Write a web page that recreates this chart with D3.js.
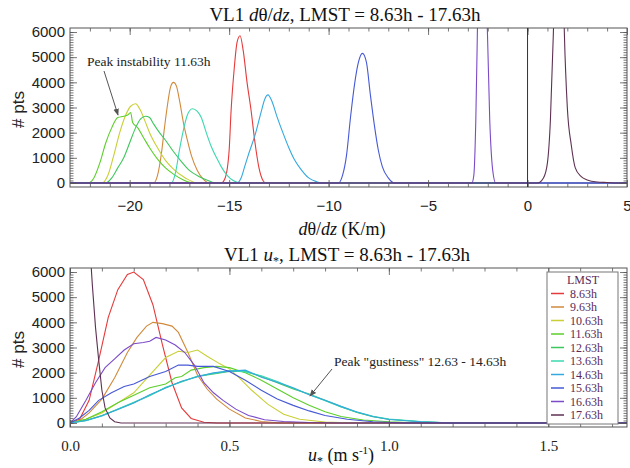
<!DOCTYPE html>
<html>
<head>
<meta charset="utf-8">
<script src="https://cdn.jsdelivr.net/npm/d3@7"></script>
<style>
  body { margin: 0; background: #fff; }
  svg { display: block; }
</style>
</head>
<body>
<svg class="chart" width="630" height="468"></svg>
<script>
// LMST hours and colours (one per curve)
const hours = ['8.63h', '9.63h', '10.63h', '11.63h', '12.63h', '13.63h', '14.63h', '15.63h', '16.63h', '17.63h']
const colors = ['#e63a3a', '#d18a3c', '#c9cf34', '#5ccf2a', '#3ec75c', '#3bd8b0', '#34a9df', '#4659d6', '#7b4bc8', '#5e3152']

// top panel: d theta / dz histograms, [value K/m, # pts]
const dth863 = [[-23, 0], [-15.4, 0], [-15.2, 200], [-15.0, 1300], [-14.9, 2900], [-14.75, 4500], [-14.6, 5600], [-14.45, 5850], [-14.3, 5300], [-14.1, 4000], [-13.9, 2900], [-13.7, 1600], [-13.5, 600], [-13.3, 100], [-13.15, 0], [5, 0]]
const dth963 = [[-23, 0], [-18.8, 0], [-18.6, 300], [-18.4, 1200], [-18.25, 2200], [-18.1, 3100], [-17.95, 3800], [-17.8, 4000], [-17.65, 3850], [-17.5, 3300], [-17.3, 2400], [-17.1, 1700], [-16.9, 1100], [-16.6, 500], [-16.3, 150], [-16.0, 0], [5, 0]]
const dth1063 = [[-23, 0], [-21.4, 0], [-21.1, 300], [-20.8, 1100], [-20.5, 2000], [-20.2, 2700], [-19.95, 3050], [-19.7, 3150], [-19.5, 2950], [-19.2, 2400], [-19.0, 2000], [-18.6, 1400], [-18.2, 900], [-17.8, 550], [-17.2, 200], [-16.6, 0], [5, 0]]
const dth1163 = [[-23, 0], [-22.1, 0], [-21.8, 200], [-21.5, 800], [-21.2, 1600], [-20.9, 2200], [-20.6, 2600], [-20.3, 2650], [-20.1, 2700], [-19.95, 2800], [-19.85, 2400], [-19.6, 2200], [-19.3, 1800], [-19.0, 1400], [-18.6, 950], [-18.2, 600], [-17.8, 350], [-17.3, 120], [-16.8, 0], [5, 0]]
const dth1263 = [[-23, 0], [-21.2, 0], [-20.9, 200], [-20.6, 600], [-20.3, 1000], [-20.0, 1600], [-19.7, 2200], [-19.45, 2550], [-19.2, 2650], [-19.0, 2600], [-18.8, 2350], [-18.5, 2000], [-18.2, 1700], [-17.8, 1250], [-17.4, 850], [-17.0, 500], [-16.5, 250], [-16.0, 80], [-15.7, 0], [5, 0]]
const dth1363 = [[-23, 0], [-17.9, 0], [-17.7, 400], [-17.5, 1300], [-17.3, 2100], [-17.1, 2700], [-16.85, 2950], [-16.6, 2850], [-16.4, 2600], [-16.15, 2000], [-15.9, 1450], [-15.6, 950], [-15.4, 650], [-15.1, 300], [-14.8, 100], [-14.4, 0], [5, 0]]
const dth1463 = [[-23, 0], [-14.6, 0], [-14.4, 200], [-14.2, 700], [-14.0, 1200], [-13.7, 1900], [-13.4, 2800], [-13.2, 3350], [-13.05, 3500], [-12.85, 3250], [-12.6, 2650], [-12.3, 2000], [-12.0, 1400], [-11.7, 900], [-11.4, 550], [-11.0, 200], [-10.6, 50], [-10.3, 0], [5, 0]]
const dth1563 = [[-23, 0], [-9.5, 0], [-9.3, 300], [-9.1, 1100], [-8.9, 2600], [-8.7, 3900], [-8.5, 4800], [-8.3, 5150], [-8.1, 4800], [-7.9, 3500], [-7.7, 2300], [-7.5, 1300], [-7.3, 650], [-7.0, 200], [-6.7, 0], [5, 0]]
const dth1663 = [[-23, 0], [-2.8, 0], [-2.7, 300], [-2.6, 2500], [-2.5, 7000], [-2.35, 13000], [-2.2, 13000], [-2.05, 7000], [-1.9, 2500], [-1.75, 500], [-1.6, 0], [5, 0]]
const dth1763 = [[-23, 0], [0.5, 0], [0.8, 200], [1.0, 800], [1.15, 2500], [1.3, 6000], [1.5, 12000], [1.7, 12000], [1.85, 6000], [2.0, 3000], [2.2, 1500], [2.4, 600], [2.7, 250], [3.0, 120], [3.5, 40], [4.0, 20], [4.5, 0], [5, 0]]

// bottom panel: friction velocity histograms, [u* m/s, # pts]
const us863 = [[0, 0], [0.03, 150], [0.06, 900], [0.09, 2500], [0.12, 4200], [0.15, 5300], [0.18, 5900], [0.2, 6000], [0.23, 5700], [0.26, 4700], [0.29, 3100], [0.32, 1600], [0.35, 600], [0.38, 180], [0.42, 30], [0.46, 0], [1.75, 0]]
const us963 = [[0, 0], [0.03, 100], [0.06, 400], [0.1, 950], [0.14, 1800], [0.18, 2800], [0.21, 3400], [0.24, 3850], [0.26, 4000], [0.29, 3950], [0.32, 3850], [0.34, 3600], [0.37, 2800], [0.4, 1900], [0.43, 1350], [0.46, 950], [0.5, 550], [0.55, 200], [0.6, 60], [0.66, 0], [1.75, 0]]
const us1063 = [[0, 0], [0.05, 150], [0.1, 400], [0.15, 800], [0.2, 1200], [0.25, 1900], [0.3, 2600], [0.34, 2850], [0.37, 2800], [0.4, 2900], [0.43, 2650], [0.47, 2350], [0.5, 2150], [0.53, 1800], [0.57, 1300], [0.62, 750], [0.67, 350], [0.72, 150], [0.8, 40], [0.9, 0], [1.75, 0]]
const us1163 = [[0, 0], [0.05, 150], [0.1, 450], [0.15, 800], [0.2, 1100], [0.25, 1400], [0.3, 1550], [0.33, 1800], [0.35, 1850], [0.38, 2100], [0.42, 2200], [0.46, 2250], [0.5, 2200], [0.55, 2000], [0.6, 1700], [0.65, 1350], [0.7, 1000], [0.75, 700], [0.8, 450], [0.85, 260], [0.92, 120], [1.0, 50], [1.1, 0], [1.75, 0]]
const us1263 = [[0, 0], [0.05, 100], [0.1, 300], [0.15, 550], [0.2, 800], [0.25, 1100], [0.3, 1400], [0.35, 1650], [0.4, 1850], [0.45, 1950], [0.5, 2050], [0.55, 2050], [0.6, 1850], [0.65, 1600], [0.7, 1350], [0.75, 1150], [0.8, 900], [0.85, 650], [0.9, 420], [0.95, 250], [1.0, 150], [1.1, 50], [1.2, 0], [1.75, 0]]
const us1363 = [[0, 0], [0.05, 90], [0.1, 280], [0.15, 560], [0.2, 820], [0.25, 1080], [0.3, 1420], [0.35, 1630], [0.4, 1870], [0.45, 1970], [0.5, 2080], [0.55, 2030], [0.6, 1880], [0.65, 1650], [0.7, 1380], [0.75, 1130], [0.8, 880], [0.85, 640], [0.9, 430], [0.95, 270], [1.0, 160], [1.1, 60], [1.2, 0], [1.75, 0]]
const us1463 = [[0, 0], [0.05, 100], [0.1, 290], [0.15, 540], [0.2, 790], [0.25, 1120], [0.3, 1390], [0.35, 1660], [0.4, 1840], [0.45, 1990], [0.5, 2060], [0.55, 2100], [0.6, 1820], [0.65, 1620], [0.7, 1400], [0.75, 1120], [0.8, 900], [0.85, 660], [0.9, 440], [0.95, 260], [1.0, 140], [1.1, 50], [1.2, 0], [1.75, 0]]
const us1563 = [[0, 0], [0.03, 200], [0.06, 500], [0.09, 900], [0.13, 1200], [0.17, 1450], [0.2, 1550], [0.25, 1850], [0.3, 2050], [0.34, 2300], [0.37, 2300], [0.4, 2250], [0.45, 2250], [0.5, 2050], [0.55, 1700], [0.6, 1300], [0.65, 950], [0.7, 700], [0.75, 480], [0.8, 300], [0.87, 150], [0.95, 50], [1.05, 0], [1.75, 0]]
const us1663 = [[0, 0], [0.02, 250], [0.05, 900], [0.08, 1600], [0.11, 2200], [0.14, 2550], [0.17, 2900], [0.2, 3150], [0.23, 3200], [0.25, 3250], [0.27, 3400], [0.3, 3300], [0.33, 3100], [0.36, 2800], [0.39, 2300], [0.42, 1600], [0.45, 1200], [0.48, 900], [0.52, 550], [0.56, 300], [0.61, 130], [0.67, 60], [0.75, 20], [0.85, 0], [1.75, 0]]
const us1763 = [[0, 20000], [0.04, 12000], [0.06, 7500], [0.07, 5500], [0.08, 3800], [0.09, 2500], [0.1, 1300], [0.11, 600], [0.125, 200], [0.14, 50], [0.16, 0], [1.75, 0]]

const dthCurves = [dth863, dth963, dth1063, dth1163, dth1263, dth1363, dth1463, dth1563, dth1663, dth1763]
const usCurves = [us863, us963, us1063, us1163, us1263, us1363, us1463, us1563, us1663, us1763]

const yMajor = [0, 1000, 2000, 3000, 4000, 5000, 6000]
const dthMajor = [-20, -15, -10, -5, 0, 5]
const usMajor = [0, 0.5, 1.0, 1.5]

const svg = d3.select('.chart')
const frame = '#555'
const plotL = 70, plotR = 627
const serif = '"Liberation Serif", "Times New Roman", serif'
const sans = '"Liberation Sans", Arial, sans-serif'

const drawPanel = (top, bottom, xscale, curves, majors, minors, fmt, labelFont, id, curve) => {
    const yscale = d3.scaleLinear().domain([-160, 6160]).range([bottom, top])
    const g = svg.append('g')

    g.append('clipPath').attr('id', id).append('rect')
        .attr('x', plotL).attr('y', top).attr('width', plotR - plotL).attr('height', bottom - top)

    const line = d3.line()
        .x(d => xscale(d[0]))
        .y(d => yscale(d[1]))
        .curve(curve)

    const lines = g.append('g').attr('clip-path', `url(#${id})`)
    curves.forEach((c, i) => {
        lines.append('path')
            .attr('d', line(c))
            .attr('fill', 'none')
            .attr('stroke', colors[i])
            .attr('stroke-width', 1.1)
    })

    // bottom axis with labels
    const xb = g.append('g').attr('transform', `translate(0,${bottom})`)
        .call(d3.axisBottom(xscale).tickValues(majors).tickSize(-7).tickPadding(13).tickFormat(fmt))
    xb.selectAll('text').style('font', labelFont).attr('fill', '#222')
    g.append('g').attr('transform', `translate(0,${bottom})`)
        .call(d3.axisBottom(xscale).tickValues(minors).tickSize(-3.5).tickFormat(''))
    g.append('g').attr('transform', `translate(0,${top})`)
        .call(d3.axisTop(xscale).tickValues(majors).tickSize(-7).tickFormat(''))
    g.append('g').attr('transform', `translate(0,${top})`)
        .call(d3.axisTop(xscale).tickValues(minors).tickSize(-3.5).tickFormat(''))

    const yMinor = d3.range(0, 6001, 100)
    const yl = g.append('g').attr('transform', `translate(${plotL},0)`)
        .call(d3.axisLeft(yscale).tickValues(yMajor).tickSize(-7).tickPadding(5).tickFormat(d3.format('d')))
    yl.selectAll('text').style('font', `15px ${sans}`).attr('fill', '#222')
    g.append('g').attr('transform', `translate(${plotL},0)`)
        .call(d3.axisLeft(yscale).tickValues(yMinor).tickSize(-3.5).tickFormat(''))
    g.append('g').attr('transform', `translate(${plotR},0)`)
        .call(d3.axisRight(yscale).tickValues(yMajor).tickSize(-7).tickFormat(''))
    g.append('g').attr('transform', `translate(${plotR},0)`)
        .call(d3.axisRight(yscale).tickValues(yMinor).tickSize(-3.5).tickFormat(''))

    g.selectAll('.domain').remove()
    g.selectAll('.tick line').attr('stroke', frame).attr('stroke-width', 0.8)

    g.append('rect')
        .attr('x', plotL).attr('y', top)
        .attr('width', plotR - plotL).attr('height', bottom - top)
        .attr('fill', 'none').attr('stroke', frame).attr('stroke-width', 1)

    g.append('text')
        .attr('transform', `translate(24,${(top + bottom) / 2 + 2}) rotate(-90)`)
        .attr('text-anchor', 'middle')
        .style('font', `17px ${sans}`)
        .attr('fill', '#222')
        .text('# pts')

    return { g, yscale, xb }
}

// ---- top panel
const xTop = d3.scaleLinear().domain([-23, 5]).range([plotL, plotR])
const p1 = drawPanel(28, 187, xTop, dthCurves, dthMajor, d3.range(-22, 5, 1), d3.format('d'),
    `15px ${sans}`, 'clipTop', d3.curveMonotoneX)
// keep the last label "5" inside the page
p1.xb.selectAll('text').filter(d => d === 5).attr('text-anchor', 'end').attr('dx', 4)

// zero line
p1.g.append('line')
    .attr('x1', xTop(0)).attr('x2', xTop(0))
    .attr('y1', 28).attr('y2', 187)
    .attr('stroke', '#333').attr('stroke-width', 1)

const t1 = svg.append('text').attr('x', 345).attr('y', 21).attr('text-anchor', 'middle')
    .style('font', `19px ${serif}`).attr('fill', '#111')
t1.append('tspan').text('VL1 ')
t1.append('tspan').style('font-style', 'italic').text('d')
t1.append('tspan').text('θ/')
t1.append('tspan').style('font-style', 'italic').text('dz')
t1.append('tspan').text(', LMST = 8.63h - 17.63h')

const a1 = svg.append('text').attr('x', 342).attr('y', 235).attr('text-anchor', 'middle')
    .style('font', `18px ${serif}`).attr('fill', '#111')
a1.append('tspan').style('font-style', 'italic').text('d')
a1.append('tspan').text('θ/')
a1.append('tspan').style('font-style', 'italic').text('dz')
a1.append('tspan').text(' (K/m)')

svg.append('text').attr('x', 87).attr('y', 66)
    .style('font', `13.5px ${serif}`).attr('fill', '#222')
    .text('Peak instability 11.63h')

svg.append('defs').append('marker')
    .attr('id', 'arr').attr('viewBox', '0 0 10 10').attr('refX', 9).attr('refY', 5)
    .attr('markerWidth', 7).attr('markerHeight', 7).attr('orient', 'auto')
    .append('path').attr('d', 'M0,1 L10,5 L0,9 z').attr('fill', '#555')

svg.append('line').attr('x1', 104).attr('y1', 71).attr('x2', 118).attr('y2', 115)
    .attr('stroke', '#555').attr('stroke-width', 1).attr('marker-end', 'url(#arr)')

// ---- bottom panel
const xBot = d3.scaleLinear().domain([0, 1.75]).range([plotL, plotR + 1])
const p2 = drawPanel(268, 427, xBot, usCurves, usMajor, d3.range(0, 1.75, 0.1), d3.format('.1f'),
    `15px ${serif}`, 'clipBot', d3.curveLinear)

const t2 = svg.append('text').attr('x', 347).attr('y', 261).attr('text-anchor', 'middle')
    .style('font', `19px ${serif}`).attr('fill', '#111')
t2.append('tspan').text('VL1 ')
t2.append('tspan').style('font-style', 'italic').text('u')
t2.append('tspan').attr('dy', 4).style('font-size', '12px').text('*')
t2.append('tspan').attr('dy', -4).text(', LMST = 8.63h - 17.63h')

const a2 = svg.append('text').attr('x', 341).attr('y', 461).attr('text-anchor', 'middle')
    .style('font', `18px ${serif}`).attr('fill', '#111')
a2.append('tspan').style('font-style', 'italic').text('u')
a2.append('tspan').attr('dy', 4).style('font-size', '12px').text('*')
a2.append('tspan').attr('dy', -4).text(' (m s')
a2.append('tspan').attr('dy', -7).style('font-size', '11px').text('-1')
a2.append('tspan').attr('dy', 7).text(')')

svg.append('text').attr('x', 334).attr('y', 366)
    .style('font', `13.5px ${serif}`).attr('fill', '#222')
    .text('Peak "gustiness" 12.63 - 14.63h')

svg.append('line').attr('x1', 332).attr('y1', 369).attr('x2', 310).attr('y2', 396)
    .attr('stroke', '#555').attr('stroke-width', 1).attr('marker-end', 'url(#arr)')

// legend
const leg = svg.append('g')
leg.append('rect').attr('x', 547).attr('y', 272).attr('width', 71).attr('height', 152)
    .attr('fill', '#fff').attr('stroke', '#777').attr('stroke-width', 1)
leg.append('text').attr('x', 583).attr('y', 284).attr('text-anchor', 'middle')
    .style('font', `12px ${serif}`).attr('fill', '#5a2a5a').text('LMST')
hours.forEach((h, i) => {
    const y = 293.5 + i * 13.5
    leg.append('line').attr('x1', 551).attr('x2', 564).attr('y1', y).attr('y2', y)
        .attr('stroke', colors[i]).attr('stroke-width', 1.5)
    leg.append('text').attr('x', 570).attr('y', y + 4)
        .style('font', `12px ${serif}`).attr('fill', '#5a2a5a').text(h)
})
</script>
</body>
</html>
